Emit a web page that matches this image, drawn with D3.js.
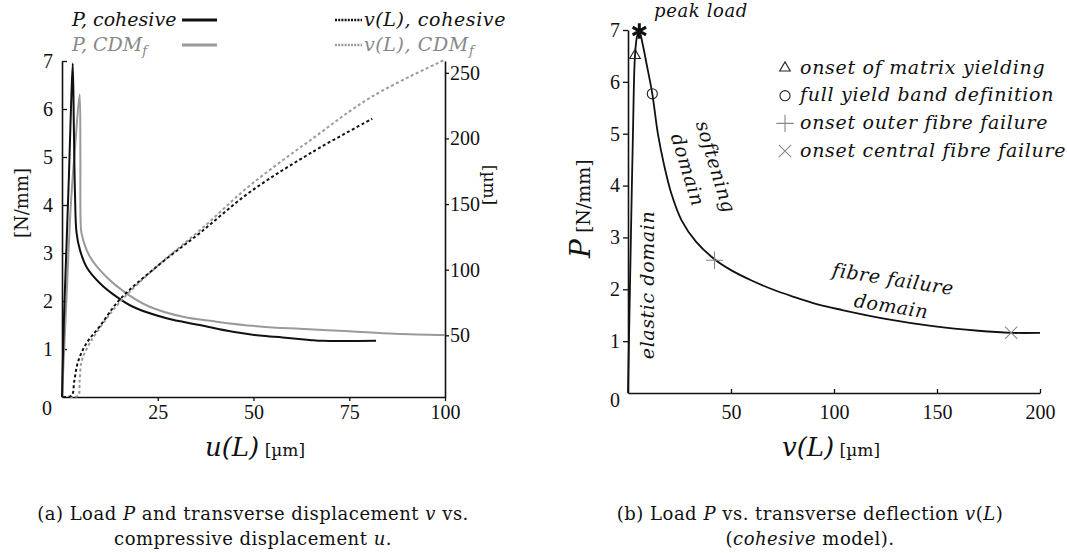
<!DOCTYPE html>
<html>
<head>
<meta charset="utf-8">
<script src="https://cdn.jsdelivr.net/npm/d3@7"></script>
<style>
  body { margin: 0; background: #fff; }
  text { font-family: "DejaVu Serif", serif; fill: #111; }
  .tick text { font-family: "Liberation Serif", serif; font-size: 20px; }
</style>
</head>
<body>
<script>
// ---- data ----
// (a) load P [N/mm] vs compressive displacement u(L) [um]
var uCoh = [0, 0.5, 1.2, 1.8, 2.3, 2.8, 3.1, 3.4, 3.8, 4.7, 6.4, 9.9, 14.2, 18.5, 27.3, 36, 44.6, 51.6, 57.6, 64.6, 68, 82];
var pCoh = [0, 1.6, 3.2, 4.6, 5.9, 6.95, 5.6, 4.2, 3.42, 3.06, 2.71, 2.37, 2.09, 1.88, 1.64, 1.5, 1.36, 1.28, 1.24, 1.19, 1.17, 1.17];

var uCdm = [0, 1.2, 2.3, 3.5, 4.6, 4.8, 4.85, 5.1, 7.3, 11.6, 16.8, 22.9, 31.6, 40.3, 51.6, 62, 75, 87, 100];
var pCdm = [0, 2.1, 4.0, 5.3, 6.3, 5.0, 3.7, 3.41, 2.92, 2.5, 2.16, 1.88, 1.67, 1.57, 1.47, 1.42, 1.37, 1.32, 1.29];

// transverse displacement v(L) [um] vs u(L), right axis
var uVcoh = [0.3, 2.5, 3.2, 4.2, 6.4, 9.9, 15, 25, 36, 49, 65, 81];
var vCoh  = [3, 4, 15, 30, 44, 57, 77, 103, 128, 159, 189, 215];

var uVcdm = [2, 4.2, 4.6, 5.1, 6.5, 9, 15, 25, 36, 49, 65, 81, 100];
var vCdm  = [3, 4, 15, 30, 40, 52, 75, 103, 130, 164, 199, 232, 260];

// (b) load P vs transverse deflection v(L), cohesive model
var vB = [0, 0.7, 1.5, 2.4, 3.4, 4.5, 5.5, 7, 9, 11.8, 14.5, 17.5, 21, 26, 33, 42, 50, 60, 70, 80, 92, 104, 125, 148, 170, 186, 200];
var pB = [0, 1.5, 3.2, 5.0, 6.51, 6.9, 6.98, 6.75, 6.35, 5.77, 5.0, 4.4, 3.85, 3.33, 2.92, 2.58, 2.37, 2.17, 2.0, 1.86, 1.71, 1.6, 1.43, 1.29, 1.2, 1.16, 1.16];

// event markers on curve (b)
var eventNames = ["onset of matrix yielding", "full yield band definition", "onset outer fibre failure", "onset central fibre failure"];
var eventV = [3.4, 11.8, 42, 186];
var eventP = [6.51, 5.77, 2.56, 1.16];
var peakV = 5.5, peakP = 6.98;

// tick labels
var uTicks = [25, 50, 75, 100];
var pTicks = [1, 2, 3, 4, 5, 6, 7];
var vRightTicks = [50, 100, 150, 200, 250];
var vTicks = [50, 100, 150, 200];

var grey = '#9a9a9a';

var svg = d3.select('body').append('svg')
    .attr('width', 1067)
    .attr('height', 553);

// ================= (a) =================
var xL = d3.scaleLinear().domain([0, 100]).range([62, 445]);
var yL = d3.scaleLinear().domain([0, 7]).range([397, 61]);
var yR = d3.scaleLinear().domain([3, 259]).range([397, 61]);

function styleAxis(g) {
  g.select('.domain').attr('stroke', '#111').attr('stroke-width', 1.6);
  g.selectAll('.tick line').attr('stroke', '#111').attr('stroke-width', 1.3);
  g.selectAll('.tick text').attr('fill', '#111');
}

var fmt = d3.format('d');

svg.append('g')
    .attr('transform', 'translate(0,397)')
    .call(d3.axisBottom(xL).tickValues(uTicks).tickFormat(fmt).tickSize(4).tickPadding(4).tickSizeOuter(0))
    .call(styleAxis);

svg.append('g')
    .attr('transform', 'translate(62,0)')
    .call(d3.axisLeft(yL).tickValues(pTicks).tickFormat(fmt).tickSize(-5).tickPadding(9).tickSizeOuter(0))
    .call(styleAxis);

svg.append('g')
    .attr('transform', 'translate(445,0)')
    .call(d3.axisRight(yR).tickValues(vRightTicks).tickFormat(fmt).tickSize(4).tickPadding(1).tickSizeOuter(0))
    .call(styleAxis);

svg.append('text')
    .attr('x', 47).attr('y', 408).attr('dy', '0.35em')
    .attr('text-anchor', 'middle')
    .style('font-family', '"Liberation Serif", serif').style('font-size', '20px')
    .text('0');

var lineA = d3.line()
    .x(d => xL(d[0]))
    .y(d => yL(d[1]))
    .curve(d3.curveCatmullRom.alpha(0.5));

var lineV = d3.line()
    .x(d => xL(d[0]))
    .y(d => yR(d[1]))
    .curve(d3.curveCatmullRom.alpha(0.5));

svg.append('path').datum(d3.zip(uCdm, pCdm))
    .attr('d', lineA).attr('fill', 'none')
    .attr('stroke', grey).attr('stroke-width', 2);

svg.append('path').datum(d3.zip(uCoh, pCoh))
    .attr('d', lineA).attr('fill', 'none')
    .attr('stroke', '#111').attr('stroke-width', 2);

svg.append('path').datum(d3.zip(uVcdm, vCdm))
    .attr('d', lineV).attr('fill', 'none')
    .attr('stroke', grey).attr('stroke-width', 2)
    .attr('stroke-dasharray', '3,2.5');

svg.append('path').datum(d3.zip(uVcoh, vCoh))
    .attr('d', lineV).attr('fill', 'none')
    .attr('stroke', '#111').attr('stroke-width', 2)
    .attr('stroke-dasharray', '3,2.5');

// legend (a)
var legA = [
  {x: 72, y: 26, main: 'P, cohesive', sub: '', col: '#111', dash: null, lx: 182},
  {x: 72, y: 51, main: 'P, CDM', sub: 'f', col: '#888', dash: null, lx: 182},
  {x: 364, y: 26, main: 'v(L), cohesive', sub: '', col: '#111', dash: '2,1.2', lx: 335},
  {x: 364, y: 51, main: 'v(L), CDM', sub: 'f', col: '#888', dash: '2,1.2', lx: 335}
];
legA.forEach(function(l, i) {
  var t = svg.append('text')
      .attr('x', l.x).attr('y', l.y)
      .style('font-size', '19px').style('font-style', 'italic')
      .style('letter-spacing', i > 1 ? '0.6px' : '0px')
      .style('fill', l.col);
  t.append('tspan').text(l.main);
  if (l.sub) t.append('tspan').attr('dy', 4).style('font-size', '13px').text(l.sub);
  var ln = svg.append('line')
      .attr('x1', l.lx).attr('x2', l.lx + (l.dash ? 27 : 35))
      .attr('y1', l.y - 6).attr('y2', l.y - 6)
      .attr('stroke', i % 2 ? grey : '#111').attr('stroke-width', i < 2 ? 3 : 2.5);
  if (l.dash) ln.attr('stroke-dasharray', l.dash);
});

// axis titles (a)
svg.append('text')
    .attr('transform', 'translate(28,203) rotate(-90)')
    .attr('text-anchor', 'middle')
    .style('font-size', '18px')
    .text('[N/mm]');

svg.append('text')
    .attr('transform', 'translate(484,185) rotate(90)')
    .attr('text-anchor', 'middle')
    .style('font-size', '17px')
    .text('[\u00b5m]');

var tA = svg.append('text')
    .attr('x', 255).attr('y', 456)
    .attr('text-anchor', 'middle');
tA.append('tspan').style('font-size', '26px').style('font-style', 'italic').text('u(L)');
tA.append('tspan').style('font-size', '17px').text(' [\u00b5m]');

// caption (a)
var capStyle = function(t) { return t.style('font-size', '18px').style('letter-spacing', '0.5px'); };
var c1 = svg.append('text').attr('x', 253).attr('y', 520).attr('text-anchor', 'middle').call(capStyle);
c1.append('tspan').text('(a) Load ');
c1.append('tspan').style('font-style', 'italic').text('P');
c1.append('tspan').text(' and transverse displacement ');
c1.append('tspan').style('font-style', 'italic').text('v');
c1.append('tspan').text(' vs.');
var c2 = svg.append('text').attr('x', 253).attr('y', 545).attr('text-anchor', 'middle').call(capStyle);
c2.append('tspan').text('compressive displacement ');
c2.append('tspan').style('font-style', 'italic').text('u');
c2.append('tspan').text('.');

// ================= (b) =================
var xB = d3.scaleLinear().domain([0, 200]).range([628, 1040]);
var yB = d3.scaleLinear().domain([0, 7]).range([393, 30]);

svg.append('g')
    .attr('transform', 'translate(0,393)')
    .call(d3.axisBottom(xB).tickValues(vTicks).tickFormat(fmt).tickSize(-4).tickPadding(12).tickSizeOuter(0))
    .call(styleAxis);

svg.append('g')
    .attr('transform', 'translate(628,0)')
    .call(d3.axisLeft(yB).tickValues(pTicks).tickFormat(fmt).tickSize(5).tickPadding(3).tickSizeOuter(0))
    .call(styleAxis);

svg.append('text')
    .attr('x', 615).attr('y', 400).attr('dy', '0.35em')
    .attr('text-anchor', 'middle')
    .style('font-family', '"Liberation Serif", serif').style('font-size', '20px')
    .text('0');

var lineB = d3.line()
    .x(d => xB(d[0]))
    .y(d => yB(d[1]))
    .curve(d3.curveCatmullRom.alpha(0.5));

svg.append('path').datum(d3.zip(vB, pB))
    .attr('d', lineB).attr('fill', 'none')
    .attr('stroke', '#111').attr('stroke-width', 1.8);

var symTri = d3.symbolTriangle2 || d3.symbolTriangle;
var symPlus = d3.symbolPlus || d3.symbolCross;
var symTimes = d3.symbolTimes || d3.symbolX;
var symAst = d3.symbolAsterisk || d3.symbolStar;
var eventSym = [
  {type: symTri, size: 80, col: '#222'},
  {type: d3.symbolCircle, size: 80, col: '#222'},
  {type: symPlus, size: 100, col: '#888'},
  {type: symTimes, size: 100, col: '#888'}
];

eventV.forEach(function(v, i) {
  svg.append('path')
      .attr('d', d3.symbol().type(eventSym[i].type).size(eventSym[i].size))
      .attr('transform', 'translate(' + xB(v) + ',' + yB(eventP[i]) + ')')
      .attr('fill', 'none')
      .attr('stroke', eventSym[i].col).attr('stroke-width', 1.1);
});

svg.append('path')
    .attr('d', d3.symbol().type(symAst).size(170))
    .attr('transform', 'translate(' + xB(peakV) + ',' + yB(peakP) + ')')
    .attr('fill', 'none')
    .attr('stroke', '#111').attr('stroke-width', 3);

// legend (b)
eventNames.forEach(function(name, i) {
  var yy = 68 + i * 27.7;
  svg.append('path')
      .attr('d', d3.symbol().type(eventSym[i].type).size(eventSym[i].size))
      .attr('transform', 'translate(785,' + yy + ')')
      .attr('fill', 'none')
      .attr('stroke', eventSym[i].col).attr('stroke-width', 1.1);
  svg.append('text')
      .attr('x', 800).attr('y', yy).attr('dy', '0.3em')
      .style('font-size', '19px').style('font-style', 'italic')
      .style('letter-spacing', '0.7px')
      .text(name);
});

// annotations (b)
function note(txt, x, y, rot, size) {
  svg.append('text')
      .attr('transform', 'translate(' + x + ',' + y + ') rotate(' + rot + ')')
      .attr('dy', '0.3em')
      .attr('text-anchor', 'middle')
      .style('font-size', size + 'px').style('font-style', 'italic')
      .style('letter-spacing', '0.6px')
      .text(txt);
}
note('peak load', 701, 12, 0, 18);
note('elastic domain', 648, 285, -90, 19);
note('softening', 715, 167, 73, 19);
note('domain', 687, 170, 73, 19);
note('fibre failure', 893, 280, 9, 19);
note('domain', 891, 307, 9, 19);

// axis titles (b)
var tY = svg.append('text')
    .attr('transform', 'translate(590,258) rotate(-90)')
    .attr('text-anchor', 'start');
tY.append('tspan').style('font-size', '28px').style('font-style', 'italic').text('P');
tY.append('tspan').style('font-size', '19px').text(' [N/mm]');

var tB = svg.append('text')
    .attr('x', 831).attr('y', 456)
    .attr('text-anchor', 'middle');
tB.append('tspan').style('font-size', '26px').style('font-style', 'italic').text('v(L)');
tB.append('tspan').style('font-size', '17px').text(' [\u00b5m]');

// caption (b)
var c3 = svg.append('text').attr('x', 810).attr('y', 520).attr('text-anchor', 'middle').call(capStyle);
c3.append('tspan').text('(b) Load ');
c3.append('tspan').style('font-style', 'italic').text('P');
c3.append('tspan').text(' vs. transverse deflection ');
c3.append('tspan').style('font-style', 'italic').text('v');
c3.append('tspan').text('(');
c3.append('tspan').style('font-style', 'italic').text('L');
c3.append('tspan').text(')');
var c4 = svg.append('text').attr('x', 810).attr('y', 545).attr('text-anchor', 'middle').call(capStyle);
c4.append('tspan').text('(');
c4.append('tspan').style('font-style', 'italic').text('cohesive');
c4.append('tspan').text(' model).');
</script>
</body>
</html>
